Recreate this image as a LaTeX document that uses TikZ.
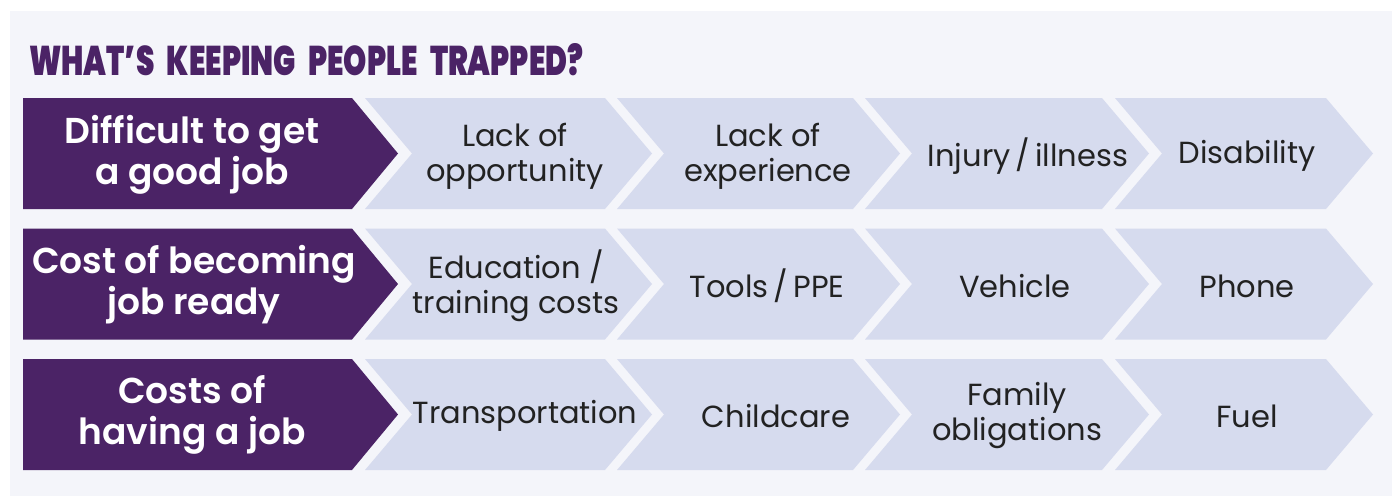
\documentclass[tikz,border=0pt]{standalone}
\usepackage{fontspec}
\setmainfont{Poppins}
\IfFontExistsTF{Poppins Black}
  {\newfontfamily\titlefont{Poppins Black}}
  {\newfontfamily\titlefont{Poppins}[UprightFont=* Bold]}
\IfFontExistsTF{Poppins SemiBold}
  {\newfontfamily\headfont{Poppins SemiBold}}
  {\newfontfamily\headfont{Poppins}[UprightFont=* Bold]}
\usepackage{graphicx}
\definecolor{plum}{HTML}{4B2366}
\definecolor{chev}{HTML}{D6DBEE}
\definecolor{pagebg}{HTML}{F4F5FA}
\definecolor{ink}{HTML}{222222}
\newcommand{\wsp}{\hspace{0.42em}}
\begin{document}
\begin{tikzpicture}[x=1pt,y=-1pt,
  headtext/.style={text=white,align=center,font=\fontsize{36}{41}\headfont,inner sep=0pt},
  celltext/.style={text=ink,align=center,font=\fontsize{30.5}{35}\selectfont,inner sep=0pt},
  titletext/.style={text=plum,anchor=base west,inner sep=0pt}]
\useasboundingbox (0,0) rectangle (1392,496);
% page background
\fill[pagebg] (10,11) rectangle (1392,496);
% heading
\node[titletext] (title) at (29,75) {\resizebox{554pt}{32pt}{\titlefont WHAT’S\wsp KEEPING\wsp PEOPLE\wsp TRAPPED?}};
% rows: top edges
\foreach \t [count=\r] in {98,228.5,359}{
  \pgfmathsetmacro{\b}{\t+111}
  \pgfmathsetmacro{\m}{\t+55.5}
  \fill[plum] (23,\t) -- (352,\t) -- (398,\m) -- (352,\b) -- (23,\b) -- cycle;
  \foreach \L/\R in {365/605,617/853,865/1102,1115/1326}{
    \fill[chev] (\L,\t) -- (\R,\t) -- (\R+47,\m) -- (\R,\b) -- (\L,\b) -- (\L+47,\m) -- cycle;
  }
}
% row 1
\node[headtext] (h1) at (192,155) {Difficult to get\\a good job};
\node[celltext] (c11) at (515,156) {Lack of\\opportunity};
\node[celltext] (c12) at (768,156) {Lack of\\experience};
\node[celltext] (c13) at (1028,156) {Injury\,/\,illness};
\node[celltext] (c14) at (1247,156) {Disability};
% row 2
\node[headtext] (h2) at (194,285) {Cost of becoming\\job ready};
\node[celltext] (c21) at (516,286) {Education /\\training costs};
\node[celltext] (c22) at (767,286) {Tools\,/\,PPE};
\node[celltext] (c23) at (1015,286) {Vehicle};
\node[celltext] (c24) at (1247,286) {Phone};
% row 3
\node[headtext] (h3) at (192,415) {Costs of\\having a job};
\node[celltext] (c31) at (525,416) {Transportation};
\node[celltext] (c32) at (776,416) {Childcare};
\node[celltext] (c33) at (1017,416) {Family\\obligations};
\node[celltext] (c34) at (1247,416) {Fuel};
\end{tikzpicture}
\end{document}
